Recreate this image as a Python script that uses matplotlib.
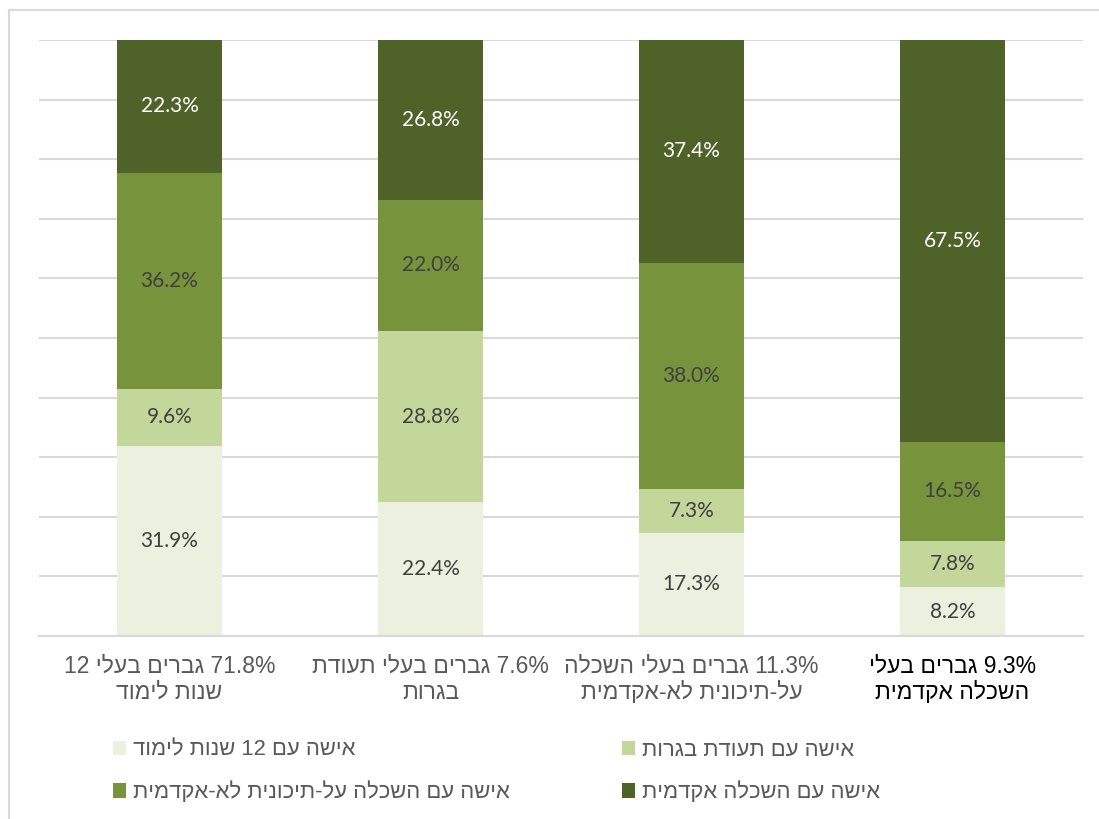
import re
import matplotlib
matplotlib.use('Agg')
import matplotlib.pyplot as plt
from matplotlib.patches import Patch
from matplotlib.lines import Line2D

plt.rcParams['font.family'] = ['Liberation Sans', 'DejaVu Sans']


def vis(s):
    # matplotlib has no bidi support: flip the Hebrew, keep numbers readable
    r = s[::-1]
    return re.sub(r'[0-9.%]+', lambda m: m.group(0)[::-1], r)


categories = [
    '71.8% גברים בעלי 12\nשנות לימוד',
    '7.6% גברים בעלי תעודת\nבגרות',
    '11.3% גברים בעלי השכלה\nעל-תיכונית לא-אקדמית',
    '9.3% גברים בעלי\nהשכלה אקדמית',
]
series_names = [
    'אישה עם 12 שנות לימוד',
    'אישה עם תעודת בגרות',
    'אישה עם השכלה על-תיכונית לא-אקדמית',
    'אישה עם השכלה אקדמית',
]
twelve_years = [31.9, 22.4, 17.3, 8.2]
bagrut = [9.6, 28.8, 7.3, 7.8]
post_secondary = [36.2, 22.0, 38.0, 16.5]
academic = [22.3, 26.8, 37.4, 67.5]

colors = ['#EBF1DE', '#C4D79B', '#77933C', '#4F6228']
label_colors = ['#404040', '#404040', '#404040', 'white']
series = [twelve_years, bagrut, post_secondary, academic]

fig = plt.figure(figsize=(10.99, 8.19), dpi=100)
ax = fig.add_axes([39 / 1099, 1 - 636 / 819, (1083 - 39) / 1099, (636 - 40) / 819])

x = list(range(len(categories)))
bottom = [0] * len(categories)
for vals, c, lc in zip(series, colors, label_colors):
    bars = ax.bar(x, vals, width=0.4, bottom=bottom, color=c, zorder=2)
    for b, v in zip(bars, vals):
        ax.text(b.get_x() + b.get_width() / 2, b.get_y() + v / 2, f'{v:.1f}%',
                ha='center', va='center', color=lc, fontsize=15,
                family=['Lato', 'DejaVu Sans'], zorder=3)
    bottom = [b + v for b, v in zip(bottom, vals)]

ax.set_xlim(-0.5, 3.5)
ax.set_ylim(0, 100)
ax.set_yticks(range(0, 101, 10))
ax.set_yticklabels([])
ax.grid(axis='y', color='#D9D9D9', linewidth=1.5, zorder=0)
ax.tick_params(length=0)
for s in ['top', 'right', 'left']:
    ax.spines[s].set_visible(False)
ax.spines['bottom'].set_color('#D9D9D9')
ax.spines['bottom'].set_linewidth(1.5)
ax.set_xticks(x)
ax.set_xticklabels([])
for i, cat in enumerate(categories):
    lines = [vis(l) for l in cat.split('\n')]
    ax.text(i, -3.2, '\n'.join(lines), ha='center', va='top',
            fontsize=16.5, linespacing=1.15,
            color='black' if i == 3 else '#595959', transform=ax.transData)

# legend: row 1 -> lightest, light ; row 2 -> mid, dark
order = [0, 2, 1, 3]
handles = [Patch(facecolor=colors[k]) for k in order]
labels = [vis(series_names[k]) for k in order]
leg = fig.legend(handles, labels, ncol=2, loc='upper left',
                 bbox_to_anchor=(104 / 1099, 1 - 731 / 819), frameon=False,
                 fontsize=15.8, handlelength=0.62, handleheight=0.62,
                 handletextpad=0.3, columnspacing=5.1, labelspacing=0.95,
                 labelcolor='#595959', borderaxespad=0)

# outer chart border (only top and left visible in the crop)
fig.add_artist(Line2D([9 / 1099, 9 / 1099], [0, 1 - 10 / 819], color='#D9D9D9', linewidth=1.5))
fig.add_artist(Line2D([9 / 1099, 1], [1 - 10 / 819, 1 - 10 / 819], color='#D9D9D9', linewidth=1.5))

fig.savefig('out.png', dpi=100)
